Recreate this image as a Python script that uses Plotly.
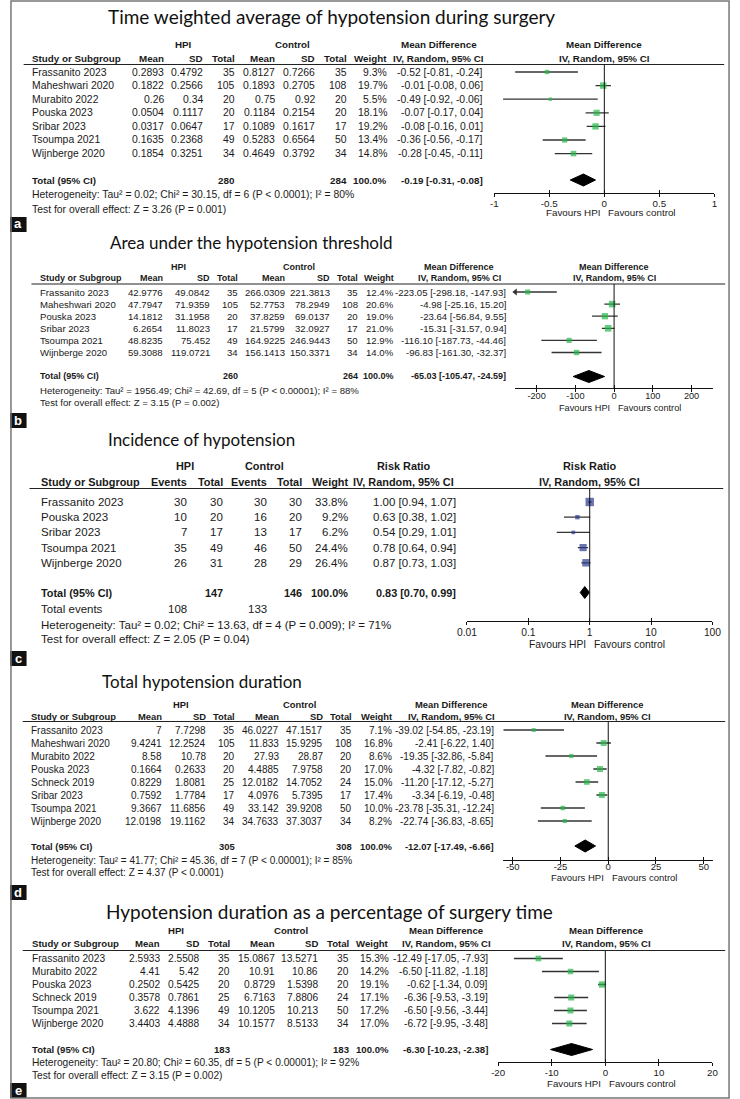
import math
import plotly.graph_objects as go

W, H = 740, 1099

# ---------------- DATA ----------------
# Panel a
a_title = "Time weighted average of hypotension during surgery"
a_studies = ["Frassanito 2023", "Maheshwari 2020", "Murabito 2022", "Pouska 2023",
             "Sribar 2023", "Tsoumpa 2021", "Wijnberge 2020"]
a_hpi_mean = [0.2893, 0.1822, 0.26, 0.0504, 0.0317, 0.1635, 0.1854]
a_hpi_sd = [0.4792, 0.2566, 0.34, 0.1117, 0.0647, 0.2368, 0.3251]
a_hpi_n = [35, 105, 20, 20, 17, 49, 34]
a_ctl_mean = [0.8127, 0.1893, 0.75, 0.1184, 0.1089, 0.5283, 0.4649]
a_ctl_sd = [0.7266, 0.2705, 0.92, 0.2154, 0.1617, 0.6564, 0.3792]
a_ctl_n = [35, 108, 20, 20, 17, 50, 34]
a_weight = [9.3, 19.7, 5.5, 18.1, 19.2, 13.4, 14.8]
a_est = [-0.52, -0.01, -0.49, -0.07, -0.08, -0.36, -0.28]
a_lo = [-0.81, -0.08, -0.92, -0.17, -0.16, -0.56, -0.45]
a_hi = [-0.24, 0.06, -0.06, 0.04, 0.01, -0.17, -0.11]
a_total_n = [280, 284]
a_total = [-0.19, -0.31, -0.08]
a_het = "Heterogeneity: Tau² = 0.02; Chi² = 30.15, df = 6 (P &lt; 0.0001); I² = 80%"
a_test = "Test for overall effect: Z = 3.26 (P = 0.001)"
a_ticks = [-1, -0.5, 0, 0.5, 1]
a_ticktext = ["-1", "-0.5", "0", "0.5", "1"]

# Panel b
b_title = "Area under the hypotension threshold"
b_studies = ["Frassanito 2023", "Maheshwari 2020", "Pouska 2023", "Sribar 2023",
             "Tsoumpa 2021", "Wijnberge 2020"]
b_hpi_mean = [42.9776, 47.7947, 14.1812, 6.2654, 48.8235, 59.3088]
b_hpi_sd = [49.0842, 71.9359, 31.1958, 11.8023, 75.452, 119.0721]
b_hpi_n = [35, 105, 20, 17, 49, 34]
b_ctl_mean = [266.0309, 52.7753, 37.8259, 21.5799, 164.9225, 156.1413]
b_ctl_sd = [221.3813, 78.2949, 69.0137, 32.0927, 246.9443, 150.3371]
b_ctl_n = [35, 108, 20, 17, 50, 34]
b_weight = [12.4, 20.6, 19.0, 21.0, 12.9, 14.0]
b_est = [-223.05, -4.98, -23.64, -15.31, -116.10, -96.83]
b_lo = [-298.18, -25.16, -56.84, -31.57, -187.73, -161.30]
b_hi = [-147.93, 15.20, 9.55, 0.94, -44.46, -32.37]
b_total_n = [260, 264]
b_total = [-65.03, -105.47, -24.59]
b_het = "Heterogeneity: Tau² = 1956.49; Chi² = 42.69, df = 5 (P &lt; 0.00001); I² = 88%"
b_test = "Test for overall effect: Z = 3.15 (P = 0.002)"
b_ticks = [-200, -100, 0, 100, 200]
b_ticktext = ["-200", "-100", "0", "100", "200"]

# Panel c
c_title = "Incidence of hypotension"
c_studies = ["Frassanito 2023", "Pouska 2023", "Sribar 2023", "Tsoumpa 2021", "Wijnberge 2020"]
c_hpi_events = [30, 10, 7, 35, 26]
c_hpi_n = [30, 20, 17, 49, 31]
c_ctl_events = [30, 16, 13, 46, 28]
c_ctl_n = [30, 20, 17, 50, 29]
c_weight = [33.8, 9.2, 6.2, 24.4, 26.4]
c_est = [1.00, 0.63, 0.54, 0.78, 0.87]
c_lo = [0.94, 0.38, 0.29, 0.64, 0.73]
c_hi = [1.07, 1.02, 1.01, 0.94, 1.03]
c_total_n = [147, 146]
c_total_events = [108, 133]
c_total = [0.83, 0.70, 0.99]
c_het = "Heterogeneity: Tau² = 0.02; Chi² = 13.63, df = 4 (P = 0.009); I² = 71%"
c_test = "Test for overall effect: Z = 2.05 (P = 0.04)"
c_ticks = [0.01, 0.1, 1, 10, 100]
c_ticktext = ["0.01", "0.1", "1", "10", "100"]

# Panel d
d_title = "Total hypotension duration"
d_studies = ["Frassanito 2023", "Maheshwari 2020", "Murabito 2022", "Pouska 2023",
             "Schneck 2019", "Sribar 2023", "Tsoumpa 2021", "Wijnberge 2020"]
d_hpi_mean = [7, 9.4241, 8.58, 0.1664, 0.8229, 0.7592, 9.3667, 12.0198]
d_hpi_sd = [7.7298, 12.2524, 10.78, 0.2633, 1.8081, 1.7784, 11.6856, 19.1162]
d_hpi_n = [35, 105, 20, 20, 25, 17, 49, 34]
d_ctl_mean = [46.0227, 11.833, 27.93, 4.4885, 12.0182, 4.0976, 33.142, 34.7633]
d_ctl_sd = [47.1517, 15.9295, 28.87, 7.9758, 14.7052, 5.7395, 39.9208, 37.3037]
d_ctl_n = [35, 108, 20, 20, 24, 17, 50, 34]
d_weight = [7.1, 16.8, 8.6, 17.0, 15.0, 17.4, 10.0, 8.2]
d_est = [-39.02, -2.41, -19.35, -4.32, -11.20, -3.34, -23.78, -22.74]
d_lo = [-54.85, -6.22, -32.86, -7.82, -17.12, -6.19, -35.31, -36.83]
d_hi = [-23.19, 1.40, -5.84, -0.82, -5.27, -0.48, -12.24, -8.65]
d_total_n = [305, 308]
d_total = [-12.07, -17.49, -6.66]
d_het = "Heterogeneity: Tau² = 41.77; Chi² = 45.36, df = 7 (P &lt; 0.00001); I² = 85%"
d_test = "Test for overall effect: Z = 4.37 (P &lt; 0.0001)"
d_ticks = [-50, -25, 0, 25, 50]
d_ticktext = ["-50", "-25", "0", "25", "50"]

# Panel e
e_title = "Hypotension duration as a percentage of surgery time"
e_studies = ["Frassanito 2023", "Murabito 2022", "Pouska 2023", "Schneck 2019",
             "Tsoumpa 2021", "Wijnberge 2020"]
e_hpi_mean = [2.5933, 4.41, 0.2502, 0.3578, 3.622, 3.4403]
e_hpi_sd = [2.5508, 5.42, 0.5425, 0.7861, 4.1396, 4.4888]
e_hpi_n = [35, 20, 20, 25, 49, 34]
e_ctl_mean = [15.0867, 10.91, 0.8729, 6.7163, 10.1205, 10.1577]
e_ctl_sd = [13.5271, 10.86, 1.5398, 7.8806, 10.213, 8.5133]
e_ctl_n = [35, 20, 20, 24, 50, 34]
e_weight = [15.3, 14.2, 19.1, 17.1, 17.2, 17.0]
e_est = [-12.49, -6.50, -0.62, -6.36, -6.50, -6.72]
e_lo = [-17.05, -11.82, -1.34, -9.53, -9.56, -9.95]
e_hi = [-7.93, -1.18, 0.09, -3.19, -3.44, -3.48]
e_total_n = [183, 183]
e_total = [-6.30, -10.23, -2.38]
e_het = "Heterogeneity: Tau² = 20.80; Chi² = 60.35, df = 5 (P &lt; 0.00001); I² = 92%"
e_test = "Test for overall effect: Z = 3.15 (P = 0.002)"
e_ticks = [-20, -10, 0, 10, 20]
e_ticktext = ["-20", "-10", "0", "10", "20"]

# ---------------- STYLE / LAYOUT (pixels) ----------------
TF = "Liberation Sans, Arial, sans-serif"
TITLEF = "Lato, Open Sans, sans-serif"
INK = "#1a1a1a"
GREEN = "#25b84a"
BLUE = "#2b3990"
CI_COL = "#333333"
SQ = 1.45  # square size factor (px per sqrt(weight %))

panels = [
    dict(kind="md", label="a", title=a_title, title_x=100, title_y=16, title_size=19, fs=10.4, tfs=9.8,
         h1=44, h2=58, line_y=64.5, line_x=(14, 733), first=72, step=13.6,
         total_y=180, het_y=194, test_y=209, axis_y=193, fav_y=212.5, tick_off=-2,
         cols=[22, 159, 199, 232, 273, 314, 347, 388, 487],
         hpi_c=178, ctl_c=290, est_c=440, plot_c=610,
         px=(497, 723), rng=(-1, 1), label_y=(217, 232),
         studies=a_studies, c1=a_hpi_mean, c2=a_hpi_sd, c3=a_hpi_n, c4=a_ctl_mean, c5=a_ctl_sd, c6=a_ctl_n,
         weight=a_weight, est=a_est, lo=a_lo, hi=a_hi, total_n=a_total_n, total=a_total,
         het=a_het, test=a_test, ticks=a_ticks, ticktext=a_ticktext, color=GREEN, null=0),
    dict(kind="md", label="b", title=b_title, title_x=102, title_y=242.5, title_size=17, fs=9.6, tfs=9.2,
         h1=266.5, h2=278.5, line_y=284, line_x=(22, 734), first=292, step=12.1,
         total_y=376.5, het_y=390, test_y=402, axis_y=388, fav_y=407.5, tick_off=-4,
         cols=[30, 158, 206, 235, 283, 329, 358, 395, 510],
         hpi_c=173, ctl_c=297, est_c=461, plot_c=620,
         px=(518.6, 721.4), rng=(-255, 255), label_y=(413, 428),
         studies=b_studies, c1=b_hpi_mean, c2=b_hpi_sd, c3=b_hpi_n, c4=b_ctl_mean, c5=b_ctl_sd, c6=b_ctl_n,
         weight=b_weight, est=b_est, lo=b_lo, hi=b_hi, total_n=b_total_n, total=b_total,
         het=b_het, test=b_test, ticks=b_ticks, ticktext=b_ticktext, color=GREEN, null=0),
    dict(kind="rr", label="c", title=c_title, title_x=100, title_y=439, title_size=17, fs=11.5, tfs=10.3,
         h1=466, h2=482, line_y=488.5, line_x=(20, 732), first=502, step=15.2,
         total_y=592.5, events_y=609, het_y=624.5, test_y=638.5, axis_y=621, fav_y=644, tick_off=-1,
         cols=[31, 183, 220, 265, 301, 348, 459],
         hpi_c=180, ctl_c=261, est_c=404, plot_c=595,
         px=(469, 721), rng=(-2, 2), label_y=(651, 666),
         studies=c_studies, c1=c_hpi_events, c2=c_hpi_n, c3=c_ctl_events, c4=c_ctl_n,
         weight=c_weight, est=c_est, lo=c_lo, hi=c_hi, total_n=c_total_n, total_events=c_total_events,
         total=c_total, het=c_het, test=c_test, ticks=c_ticks, ticktext=c_ticktext, color=BLUE, null=1),
    dict(kind="md", label="d", title=d_title, title_x=93, title_y=681.5, title_size=17, fs=10, tfs=9.5,
         h1=704, h2=716.5, line_y=721.5, line_x=(13, 734), first=730, step=13.0,
         total_y=846, het_y=860.5, test_y=872.5, axis_y=860, fav_y=877.5, tick_off=-5,
         cols=[21, 157, 202, 232, 277, 322, 352, 393, 498],
         hpi_c=175, ctl_c=297, est_c=453, plot_c=613,
         px=(506, 722), rng=(-55.1, 55.1), label_y=(885, 900),
         studies=d_studies, c1=d_hpi_mean, c2=d_hpi_sd, c3=d_hpi_n, c4=d_ctl_mean, c5=d_ctl_sd, c6=d_ctl_n,
         weight=d_weight, est=d_est, lo=d_lo, hi=d_hi, total_n=d_total_n, total=d_total,
         het=d_het, test=d_test, ticks=d_ticks, ticktext=d_ticktext, color=GREEN, null=0),
    dict(kind="md", label="e", title=e_title, title_x=97, title_y=911, title_size=19, fs=10.2, tfs=9.7,
         h1=930, h2=943.5, line_y=950.5, line_x=(13, 734), first=958.5, step=13.0,
         total_y=1049.5, het_y=1062, test_y=1075, axis_y=1062, fav_y=1083, tick_off=-2,
         cols=[22, 155, 195, 227, 273, 317, 349, 390, 492],
         hpi_c=170, ctl_c=288, est_c=448, plot_c=612,
         px=(501, 721), rng=(-20, 20), label_y=(1083, 1098),
         studies=e_studies, c1=e_hpi_mean, c2=e_hpi_sd, c3=e_hpi_n, c4=e_ctl_mean, c5=e_ctl_sd, c6=e_ctl_n,
         weight=e_weight, est=e_est, lo=e_lo, hi=e_hi, total_n=e_total_n, total=e_total,
         het=e_het, test=e_test, ticks=e_ticks, ticktext=e_ticktext, color=GREEN, null=0),
]

annotations = []
shapes = []
traces = []
layout_axes = {}


def sfx(k):
    return "" if k == 1 else str(k)


def txt(x, y, s, anchor="left", size=10, bold=False, color=INK, family=TF):
    annotations.append(dict(
        x=x / W, y=1 - y / H, xref="paper", yref="paper",
        text=f"<b>{s}</b>" if bold else str(s), showarrow=False,
        xanchor=anchor, yanchor="middle", borderpad=0,
        font=dict(size=size, color=color, family=family)))


def hline(x0, x1, y, color="black", width=1):
    shapes.append(dict(type="line", xref="paper", yref="paper",
                       x0=x0 / W, x1=x1 / W, y0=1 - y / H, y1=1 - y / H,
                       line=dict(color=color, width=width)))


def fmt_ci(v):
    return f"{v[0]:.2f} [{v[1]:.2f}, {v[2]:.2f}]"


for k, p in enumerate(panels, start=1):
    fs = p["fs"]
    hfs = fs - 0.6
    cols = p["cols"]
    islog = p["kind"] == "rr"
    xs_ref, ys_ref, xo_ref = "x" + sfx(k), "y" + sfx(k), "x" + str(k + 5)

    # title
    txt(p["title_x"], p["title_y"], p["title"], "left", p["title_size"], family=TITLEF, color="#111")

    # headers
    txt(p["hpi_c"], p["h1"], "HPI", "center", hfs, True)
    txt(p["ctl_c"], p["h1"], "Control", "center", hfs, True)
    eff = "Mean Difference" if not islog else "Risk Ratio"
    txt(p["est_c"], p["h1"], eff, "center", hfs, True)
    txt(p["plot_c"], p["h1"], eff, "center", hfs, True)
    txt(cols[0], p["h2"], "Study or Subgroup", "left", hfs, True)
    if islog:
        heads = ["Events", "Total", "Events", "Total", "Weight"]
    else:
        heads = ["Mean", "SD", "Total", "Mean", "SD", "Total", "Weight"]
    for hx, hs in zip(cols[1:-1], heads):
        txt(hx, p["h2"], hs, "right", hfs, True)
    txt(p["est_c"], p["h2"], "IV, Random, 95% CI", "center", hfs, True)
    txt(p["plot_c"], p["h2"], "IV, Random, 95% CI", "center", hfs, True)
    hline(p["line_x"][0], p["line_x"][1], p["line_y"], "#222", 1.2)

    # rows
    n = len(p["studies"])
    for i in range(n):
        y = p["first"] + i * p["step"]
        txt(cols[0], y, p["studies"][i], "left", fs)
        if islog:
            vals = [p["c1"][i], p["c2"][i], p["c3"][i], p["c4"][i]]
        else:
            vals = [p["c1"][i], p["c2"][i], p["c3"][i], p["c4"][i], p["c5"][i], p["c6"][i]]
        for cx, v in zip(cols[1:-2], vals):
            txt(cx, y, v, "right", fs)
        txt(cols[-2], y, f"{p['weight'][i]:.1f}%", "right", fs)
        txt(cols[-1], y, fmt_ci((p["est"][i], p["lo"][i], p["hi"][i])), "right", fs)

    # total row
    ty = p["total_y"]
    txt(cols[0], ty, "Total (95% CI)", "left", hfs, True)
    if islog:
        txt(cols[2], ty, p["total_n"][0], "right", hfs, True)
        txt(cols[4], ty, p["total_n"][1], "right", hfs, True)
        txt(cols[0], p["events_y"], "Total events", "left", fs)
        txt(cols[1], p["events_y"], p["total_events"][0], "right", fs)
        txt(cols[3], p["events_y"], p["total_events"][1], "right", fs)
    else:
        txt(cols[3], ty, p["total_n"][0], "right", hfs, True)
        txt(cols[6], ty, p["total_n"][1], "right", hfs, True)
    txt(cols[-2], ty, "100.0%", "right", hfs, True)
    txt(cols[-1], ty, fmt_ci(p["total"]), "right", hfs, True)
    txt(cols[0], p["het_y"], p["het"], "left", fs)
    txt(cols[0], p["test_y"], p["test"], "left", fs)

    # ---- forest plot axes ----
    x0, x1 = p["px"]
    r0, r1 = p["rng"]
    ytop, ybot = p["line_y"], p["axis_y"]
    step = p["step"]
    ry_top = (ytop - p["first"]) / step
    ry_bot = (ybot - p["first"]) / step
    xa = dict(domain=[x0 / W, x1 / W], range=[r0, r1], anchor=ys_ref,
              type="log" if islog else "linear",
              showline=True, linecolor="#111", linewidth=1,
              ticks="outside", ticklen=3, tickwidth=1, tickcolor="#111",
              tickvals=p["ticks"], ticktext=p["ticktext"], ticklabelstandoff=p["tick_off"],
              tickfont=dict(size=p["tfs"], family=TF, color=INK),
              showgrid=False, zeroline=False, fixedrange=True)
    layout_axes["xaxis" + sfx(k)] = xa
    xo = dict(domain=[x0 / W, x1 / W], range=[r0, r1], anchor=ys_ref, overlaying=xs_ref,
              type="log" if islog else "linear", showline=False,
              ticks="inside", ticklen=3, tickwidth=1, tickcolor="#111",
              tickvals=p["ticks"], showticklabels=False,
              showgrid=False, zeroline=False, fixedrange=True)
    layout_axes["xaxis" + str(k + 5)] = xo
    layout_axes["yaxis" + sfx(k)] = dict(domain=[1 - ybot / H, 1 - ytop / H],
                                         range=[ry_bot, ry_top], visible=False, fixedrange=True)

    xmin = 10 ** r0 if islog else r0
    xmax = 10 ** r1 if islog else r1

    # invisible trace on overlay axis so its ticks render
    traces.append(go.Scatter(x=[p["null"]], y=[0], xaxis=xo_ref, yaxis=ys_ref,
                             mode="markers", marker=dict(opacity=0), hoverinfo="skip", showlegend=False))

    # CI lines
    xs, ys, arrows_x, arrows_y = [], [], [], []
    for i in range(n):
        lo_c = max(p["lo"][i], xmin)
        hi_c = min(p["hi"][i], xmax)
        xs += [lo_c, hi_c, None]
        ys += [i, i, None]
        if p["lo"][i] < xmin:
            arrows_x.append(xmin)
            arrows_y.append(i)
    traces.append(go.Scatter(x=xs, y=ys, xaxis=xs_ref, yaxis=ys_ref, mode="lines",
                             line=dict(color=CI_COL, width=1.3), hoverinfo="skip", showlegend=False))
    if arrows_x:
        traces.append(go.Scatter(x=arrows_x, y=arrows_y, xaxis=xs_ref, yaxis=ys_ref, mode="markers",
                                 marker=dict(symbol="triangle-left", size=6, color=CI_COL),
                                 cliponaxis=False, hoverinfo="skip", showlegend=False))
    # weight squares
    traces.append(go.Scatter(x=p["est"], y=list(range(n)), xaxis=xs_ref, yaxis=ys_ref, mode="markers",
                             marker=dict(symbol="square", color=p["color"],
                                         size=[max(3, SQ * math.sqrt(w)) for w in p["weight"]],
                                         line=dict(width=0)),
                             cliponaxis=False, hoverinfo="skip", showlegend=False))
    # diamond
    t = (ty - p["first"]) / step
    hh = 6.0 / step
    est, lo, hi = p["total"]
    traces.append(go.Scatter(x=[lo, est, hi, est, lo], y=[t, t - hh, t, t + hh, t],
                             xaxis=xs_ref, yaxis=ys_ref, mode="lines", fill="toself",
                             fillcolor="black", line=dict(color="black", width=1),
                             hoverinfo="skip", showlegend=False))
    # null line
    shapes.append(dict(type="line", xref=xs_ref, yref=ys_ref + " domain", x0=p["null"], x1=p["null"],
                       y0=0, y1=1, line=dict(color="#111", width=1)))

    # favours labels
    if islog:
        nullpx = x0 + (math.log10(p["null"]) - r0) / (r1 - r0) * (x1 - x0)
    else:
        nullpx = x0 + (p["null"] - r0) / (r1 - r0) * (x1 - x0)
    txt(nullpx - 3, p["fav_y"], "Favours HPI", "right", p["tfs"])
    txt(nullpx + 3, p["fav_y"], "Favours control", "left", p["tfs"])

    # panel label box
    ly0, ly1 = p["label_y"]
    shapes.append(dict(type="rect", xref="paper", yref="paper", x0=0, x1=17 / W,
                       y0=1 - ly1 / H, y1=1 - ly0 / H, fillcolor="#111", line=dict(width=0)))
    txt(8.5, (ly0 + ly1) / 2 - 0.5, p["label"], "center", 13, True, color="white")

# outer border
shapes.append(dict(type="rect", xref="paper", yref="paper", x0=1 / W, x1=1 - 2 / W,
                   y0=1 / H, y1=1 - 1 / H, line=dict(color="#777", width=1.5)))

fig = go.Figure(data=traces)
fig.update_layout(
    width=W, height=H, margin=dict(l=0, r=0, t=0, b=0),
    paper_bgcolor="white", plot_bgcolor="rgba(0,0,0,0)",
    showlegend=False, annotations=annotations, shapes=shapes,
    **layout_axes)
fig.write_html("out.html", config={"displayModeBar": False},
               post_script="document.body.style.margin='0';document.body.style.overflow='hidden';")
